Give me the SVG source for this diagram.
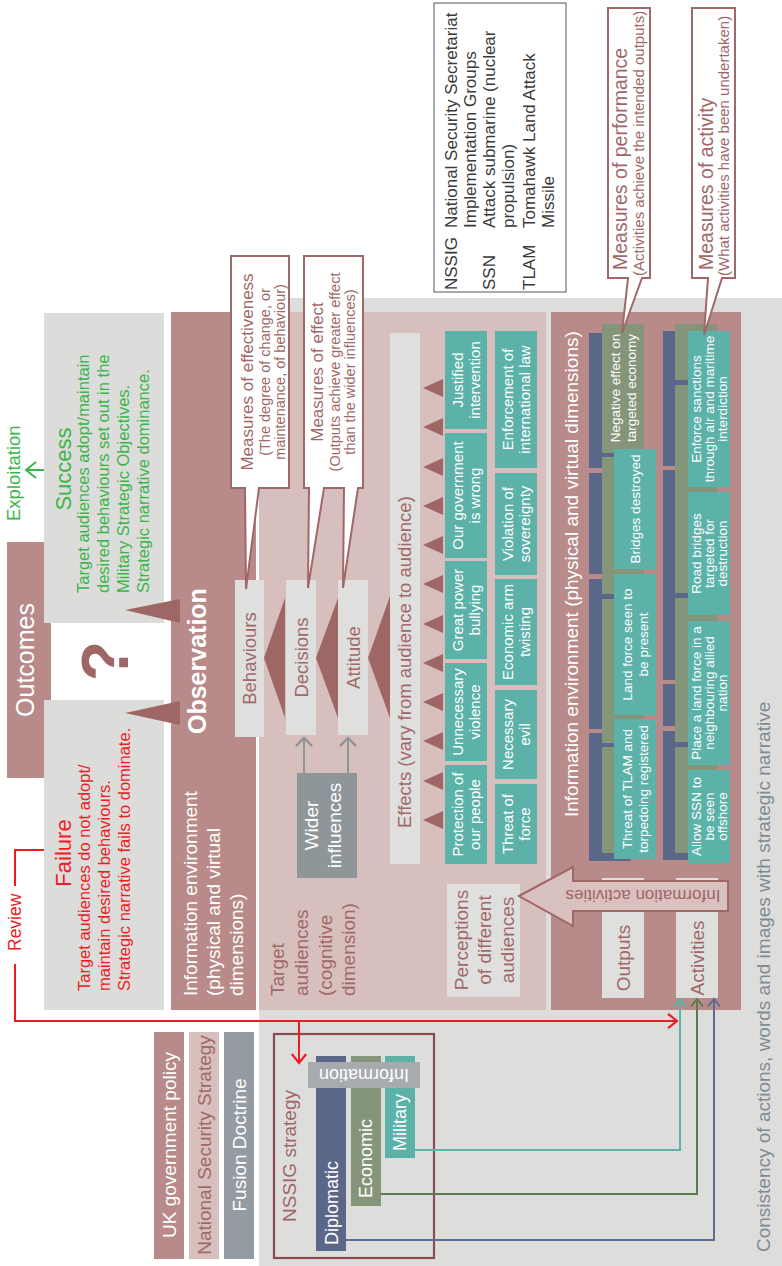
<svg xmlns="http://www.w3.org/2000/svg" width="782" height="1266" viewBox="0 0 782 1266">
<style>
text{font-family:"Liberation Sans",Arial,sans-serif}
.w{fill:#fff}
.m{fill:#a06868}
.tl{fill:#5cb2a9}
.ol{fill:#85957a}
.bl{fill:#5b6789}
.lg{fill:#dfdfdd}
.mv{fill:#b88b8a}
.pk{fill:#d7bfbd}
.dm{fill:#9f6666}
.co{fill:#fff;stroke:#a06868;stroke-width:2}
.ln{fill:none;stroke-width:2}
.c{text-anchor:middle}
</style>
<defs>
<marker id="mr" viewBox="0 0 20 20" refX="15" refY="10" markerWidth="18" markerHeight="18" markerUnits="userSpaceOnUse" orient="auto"><path d="M5,2 L15,10 L5,18" fill="none" stroke="#ed1c24" stroke-width="2.4"/></marker>
<marker id="mt" viewBox="0 0 20 20" refX="15" refY="10" markerWidth="15" markerHeight="15" markerUnits="userSpaceOnUse" orient="auto"><path d="M5,2 L15,10 L5,18" fill="none" stroke="#5eb3ab" stroke-width="2.6"/></marker>
<marker id="mg" viewBox="0 0 20 20" refX="15" refY="10" markerWidth="15" markerHeight="15" markerUnits="userSpaceOnUse" orient="auto"><path d="M5,2 L15,10 L5,18" fill="none" stroke="#5b7b4f" stroke-width="2.6"/></marker>
<marker id="mb" viewBox="0 0 20 20" refX="15" refY="10" markerWidth="15" markerHeight="15" markerUnits="userSpaceOnUse" orient="auto"><path d="M5,2 L15,10 L5,18" fill="none" stroke="#5d6b8f" stroke-width="2.6"/></marker>
<marker id="mq" viewBox="0 0 20 20" refX="15" refY="10" markerWidth="18" markerHeight="18" markerUnits="userSpaceOnUse" orient="auto"><path d="M6,1 L15,10 L6,19" fill="none" stroke="#8e969a" stroke-width="2.6"/></marker>
</defs>

<rect x="259" y="298" width="523" height="968" fill="#dddddb"/>

<g id="legend">
<rect x="434" y="3" width="132" height="289" fill="#fff" stroke="#555" stroke-width="1"/>
<g fill="#3a3a3a" font-size="17">
<text transform="rotate(-90)" x="-290" y="457">NSSIG</text>
<text transform="rotate(-90)" x="-228" y="457">National Security Secretariat</text>
<text transform="rotate(-90)" x="-228" y="476">Implementation Groups</text>
<text transform="rotate(-90)" x="-290" y="495">SSN</text>
<text transform="rotate(-90)" x="-228" y="495">Attack submarine (nuclear</text>
<text transform="rotate(-90)" x="-228" y="514">propulsion)</text>
<text transform="rotate(-90)" x="-290" y="535">TLAM</text>
<text transform="rotate(-90)" x="-228" y="535">Tomahawk Land Attack</text>
<text transform="rotate(-90)" x="-228" y="554">Missile</text>
</g>
</g>

<g id="outcomes">
<rect x="7" y="542" width="44" height="236" class="mv"/>
<text transform="rotate(-90)" x="-660" y="34" class="w c" font-size="25">Outcomes</text>
</g>

<g id="question">
<text transform="rotate(-90)" x="-661" y="128" class="dm c" font-size="66" font-weight="bold">?</text>
</g>

<g id="exploitation" fill="#3ab54a">
<text transform="rotate(-90)" x="-521" y="20" font-size="18.5">Exploitation</text>
<path d="M45,470 H26 M36,462 L26,470 L36,478" fill="none" stroke="#3ab54a" stroke-width="2"/>
</g>

<g id="success">
<rect x="44" y="313" width="120" height="310" fill="#dcdcda"/>
<g fill="#3ab54a">
<text transform="rotate(-90)" x="-469" y="71" class="c" font-size="22">Success</text>
<g font-size="16.5">
<text transform="rotate(-90)" x="-593" y="89">Target audiences adopt/maintain</text>
<text transform="rotate(-90)" x="-593" y="109">desired behaviours set out in the</text>
<text transform="rotate(-90)" x="-593" y="129">Military Strategic Objectives.</text>
<text transform="rotate(-90)" x="-593" y="149">Strategic narrative dominance.</text>
</g>
</g>
</g>

<g id="failure">
<rect x="44" y="700" width="120" height="310" fill="#dcdcda"/>
<g fill="#ed1c24">
<text transform="rotate(-90)" x="-853" y="71" class="c" font-size="22">Failure</text>
<g font-size="16.5">
<text transform="rotate(-90)" x="-991" y="90">Target audiences do not adopt/</text>
<text transform="rotate(-90)" x="-991" y="110">maintain desired behaviours.</text>
<text transform="rotate(-90)" x="-991" y="130">Strategic narrative fails to dominate.</text>
</g>
</g>
</g>

<g id="observation">
<rect x="171" y="312" width="85" height="698" class="mv"/>
<text transform="rotate(-90)" x="-734" y="206" class="w" font-size="25" font-weight="bold">Observation</text>
<g class="w" font-size="19">
<text transform="rotate(-90)" x="-996" y="197">Information environment</text>
<text transform="rotate(-90)" x="-996" y="220">(physical and virtual</text>
<text transform="rotate(-90)" x="-996" y="243">dimensions)</text>
</g>
</g>

<g id="outcome-pointers" class="dm">
<polygon points="125,610 180,599 180,623"/>
<polygon points="125,713 180,701 180,725"/>
</g>

<g id="target-audiences">
<rect x="259" y="312" width="287" height="698" class="pk"/>
<g class="m" font-size="19">
<text transform="rotate(-90)" x="-996" y="284">Target</text>
<text transform="rotate(-90)" x="-996" y="308">audiences</text>
<text transform="rotate(-90)" x="-996" y="332">(cognitive</text>
<text transform="rotate(-90)" x="-996" y="355">dimension)</text>
</g>
</g>

<g id="info-physical">
<rect x="551" y="312" width="190" height="698" class="mv"/>
<text transform="rotate(-90)" x="-817" y="578" class="w" font-size="19">Information environment (physical and virtual dimensions)</text>
</g>

<g id="stage-pointers" class="dm">
<polygon points="264,658 285,598 285,718"/>
<polygon points="316,658 338,598 338,718"/>
<polygon points="368,658 390,596 390,718"/>
</g>

<g id="behaviours">
<rect x="235" y="580" width="29" height="157" class="lg"/>
<text transform="rotate(-90)" x="-658.5" y="256" class="m c" font-size="18.5">Behaviours</text>
</g>
<g id="decisions">
<rect x="286" y="580" width="30" height="155" class="lg"/>
<text transform="rotate(-90)" x="-657.5" y="307.5" class="m c" font-size="18.5">Decisions</text>
</g>
<g id="attitude">
<rect x="338" y="580" width="30" height="155" class="lg"/>
<text transform="rotate(-90)" x="-657.5" y="359.5" class="m c" font-size="18.5">Attitude</text>
</g>

<g id="wider-influences">
<rect x="297" y="773" width="60" height="105" fill="#8e969a"/>
<text transform="rotate(-90)" x="-825.5" y="318" class="w c" font-size="19">Wider</text>
<text transform="rotate(-90)" x="-825.5" y="341" class="w c" font-size="19">influences</text>
</g>

<g id="effects">
<rect x="390" y="333" width="30" height="531" class="lg"/>
<text transform="rotate(-90)" x="-828" y="411" class="m" font-size="18.5">Effects (vary from audience to audience)</text>
</g>

<g id="effect-pointers" class="dm">
<polygon points="423,388 443,379 443,397"/>
<polygon points="423,427 443,418 443,436"/>
<polygon points="423,467 443,458 443,476"/>
<polygon points="423,506 443,497 443,515"/>
<polygon points="423,545 443,536 443,554"/>
<polygon points="423,584 443,575 443,593"/>
<polygon points="423,624 443,615 443,633"/>
<polygon points="423,663 443,654 443,672"/>
<polygon points="423,702 443,693 443,711"/>
<polygon points="423,741 443,732 443,750"/>
<polygon points="423,781 443,772 443,790"/>
<polygon points="423,820 443,811 443,829"/>
</g>

<g id="effect-justified"><rect x="445" y="331" width="42" height="98" class="tl"/>
<text transform="rotate(-90)" class="w c" font-size="15"><tspan x="-380" y="463">Justified</tspan><tspan x="-380" y="480">intervention</tspan></text></g>
<g id="effect-government"><rect x="445" y="433" width="42" height="125" class="tl"/>
<text transform="rotate(-90)" class="w c" font-size="15"><tspan x="-495.5" y="463">Our government</tspan><tspan x="-495.5" y="480">is wrong</tspan></text></g>
<g id="effect-bullying"><rect x="445" y="561" width="42" height="98" class="tl"/>
<text transform="rotate(-90)" class="w c" font-size="15"><tspan x="-610" y="463">Great power</tspan><tspan x="-610" y="480">bullying</tspan></text></g>
<g id="effect-violence"><rect x="445" y="663" width="42" height="98" class="tl"/>
<text transform="rotate(-90)" class="w c" font-size="15"><tspan x="-712" y="463">Unnecessary</tspan><tspan x="-712" y="480">violence</tspan></text></g>
<g id="effect-protection"><rect x="445" y="765" width="42" height="99" class="tl"/>
<text transform="rotate(-90)" class="w c" font-size="15"><tspan x="-814.5" y="463">Protection of</tspan><tspan x="-814.5" y="480">our people</tspan></text></g>

<g id="effect-enforcement"><rect x="495" y="331" width="42" height="137" class="tl"/>
<text transform="rotate(-90)" class="w c" font-size="15"><tspan x="-399.5" y="513">Enforcement of</tspan><tspan x="-399.5" y="530">international law</tspan></text></g>
<g id="effect-sovereignty"><rect x="495" y="473" width="42" height="102" class="tl"/>
<text transform="rotate(-90)" class="w c" font-size="15"><tspan x="-524" y="513">Violation of</tspan><tspan x="-524" y="530">sovereignty</tspan></text></g>
<g id="effect-twisting"><rect x="495" y="579" width="42" height="106" class="tl"/>
<text transform="rotate(-90)" class="w c" font-size="15"><tspan x="-632" y="513">Economic arm</tspan><tspan x="-632" y="530">twisting</tspan></text></g>
<g id="effect-evil"><rect x="495" y="690" width="42" height="89" class="tl"/>
<text transform="rotate(-90)" class="w c" font-size="15"><tspan x="-734.5" y="513">Necessary</tspan><tspan x="-734.5" y="530">evil</tspan></text></g>
<g id="effect-force"><rect x="495" y="784" width="42" height="80" class="tl"/>
<text transform="rotate(-90)" class="w c" font-size="15"><tspan x="-824" y="513">Threat of</tspan><tspan x="-824" y="530">force</tspan></text></g>

<g id="perceptions">
<rect x="447" y="884" width="73" height="113" class="lg"/>
<text transform="rotate(-90)" class="m c" font-size="19"><tspan x="-940" y="468">Perceptions</tspan><tspan x="-940" y="491">of different</tspan><tspan x="-940" y="514">audiences</tspan></text>
</g>

<g id="outputs-column">
<rect x="589" y="333" width="42" height="135" class="bl"/>
<rect x="589" y="473" width="42" height="101" class="bl"/>
<rect x="589" y="579" width="42" height="150" class="bl"/>
<rect x="589" y="733" width="42" height="128" class="bl"/>
<rect x="602" y="457" width="42" height="137" class="ol"/>
<rect x="602" y="599" width="42" height="144" class="ol"/>
<rect x="602" y="747" width="42" height="106" class="ol"/>
<g id="output-economy"><rect x="602" y="324" width="42" height="129" class="ol"/>
<text transform="rotate(-90)" class="w c" font-size="13.5"><tspan x="-388" y="619.5">Negative effect on</tspan><tspan x="-388" y="636">targeted economy</tspan></text></g>
<g id="output-bridges"><rect x="614" y="449" width="42" height="120" class="tl"/>
<text transform="rotate(-90)" x="-509" y="640" class="w c" font-size="13.5">Bridges destroyed</text></g>
<g id="output-landforce"><rect x="614" y="574" width="42" height="141" class="tl"/>
<text transform="rotate(-90)" class="w c" font-size="13.5"><tspan x="-644.5" y="631.5">Land force seen to</tspan><tspan x="-644.5" y="648">be present</tspan></text></g>
<g id="output-tlam"><rect x="614" y="719" width="42" height="140" class="tl"/>
<text transform="rotate(-90)" class="w c" font-size="13.5"><tspan x="-789" y="631.5">Threat of TLAM and</tspan><tspan x="-789" y="648">torpedoing registered</tspan></text></g>
</g>

<g id="activities-column">
<rect x="663" y="331" width="42" height="135" class="bl"/>
<rect x="663" y="470" width="42" height="210" class="bl"/>
<rect x="663" y="684" width="42" height="42" class="bl"/>
<rect x="663" y="731" width="42" height="129" class="bl"/>
<rect x="675" y="324" width="42" height="56" class="ol"/>
<rect x="675" y="385" width="42" height="208" class="ol"/>
<rect x="675" y="598" width="42" height="144" class="ol"/>
<rect x="675" y="747" width="42" height="106" class="ol"/>
<g id="activity-sanctions"><rect x="688" y="331" width="42" height="156" class="tl"/>
<text transform="rotate(-90)" class="w c" font-size="13.5"><tspan x="-409" y="700.7">Enforce sanctions</tspan><tspan x="-409" y="713.7">through air and maritime</tspan><tspan x="-409" y="726.7">interdiction</tspan></text></g>
<g id="activity-roadbridges"><rect x="688" y="492" width="42" height="123" class="tl"/>
<text transform="rotate(-90)" class="w c" font-size="13.5"><tspan x="-553.5" y="700.7">Road bridges</tspan><tspan x="-553.5" y="713.7">targeted for</tspan><tspan x="-553.5" y="726.7">destruction</tspan></text></g>
<g id="activity-landforce"><rect x="688" y="621" width="42" height="144" class="tl"/>
<text transform="rotate(-90)" class="w c" font-size="13.5"><tspan x="-693" y="700.7">Place a land force in a</tspan><tspan x="-693" y="713.7">neighbouring allied</tspan><tspan x="-693" y="726.7">nation</tspan></text></g>
<g id="activity-ssn"><rect x="688" y="770" width="42" height="93" class="tl"/>
<text transform="rotate(-90)" class="w c" font-size="13.5"><tspan x="-816.5" y="700.7">Allow SSN to</tspan><tspan x="-816.5" y="713.7">be seen</tspan><tspan x="-816.5" y="726.7">offshore</tspan></text></g>
</g>

<g id="outputs-label">
<rect x="602" y="878" width="42" height="120" class="lg"/>
<text transform="rotate(-90)" x="-958" y="629.5" class="m c" font-size="19">Outputs</text>
</g>
<g id="activities-label">
<rect x="676" y="878" width="42" height="120" class="lg"/>
<text transform="rotate(-90)" x="-958" y="703.5" class="m c" font-size="19">Activities</text>
</g>

<g id="information-activities">
<polygon points="519,896 573,867 573,881 728,881 728,911 573,911 573,926" fill="#d9c1bf" stroke="#a06868" stroke-width="2"/>
<text transform="translate(643,896) rotate(180)" x="0" y="6" class="dm c" font-size="17">Information activities</text>
</g>

<g id="policy">
<rect x="154" y="1032" width="30" height="227" class="mv"/>
<text transform="rotate(-90)" x="-1145" y="175.5" class="w c" font-size="19">UK government policy</text>
</g>
<g id="nss">
<rect x="189" y="1032" width="30" height="227" class="pk"/>
<text transform="rotate(-90)" x="-1145" y="210.5" class="m c" font-size="19">National Security Strategy</text>
</g>
<g id="fusion">
<rect x="224" y="1032" width="30" height="227" fill="#939ca3"/>
<text transform="rotate(-90)" x="-1145" y="245.5" class="w c" font-size="19">Fusion Doctrine</text>
</g>

<g id="nssig-strategy">
<rect x="274" y="1034" width="160" height="224" fill="none" stroke="#8b4b55" stroke-width="2.2"/>
<text transform="rotate(-90)" x="-1222" y="296" class="dm" font-size="19">NSSIG strategy</text>
<rect x="316" y="1056" width="30" height="195" class="bl"/>
<text transform="rotate(-90)" x="-1245" y="338" class="w" font-size="18">Diplomatic</text>
<rect x="351" y="1056" width="30" height="150" class="ol"/>
<text transform="rotate(-90)" x="-1198" y="372" class="w" font-size="18">Economic</text>
<rect x="385" y="1056" width="30" height="102" class="tl"/>
<text transform="rotate(-90)" x="-1151" y="406" class="w" font-size="18">Military</text>
<rect x="308" y="1062" width="112" height="26" fill="#a7abae"/>
<text transform="translate(364,1075) rotate(180)" x="0" y="6.5" class="w c" font-size="18">Information</text>
</g>

<g id="callout-effectiveness">
<path d="M231,256 H289 V488 H259 L246,589 L245,488 H231 Z" class="co"/>
<text transform="rotate(-90)" x="-372" y="253" class="m c" font-size="17">Measures of effectiveness</text>
<text transform="rotate(-90)" class="m c" font-size="14.5"><tspan x="-372" y="270">(The degree of change, or</tspan><tspan x="-372" y="285">maintenance, of behaviour)</tspan></text>
</g>
<g id="callout-effect">
<path d="M304,256 H363 V488 H358 L343,588 L344,488 H324 L308,588 L309,488 H304 Z" class="co"/>
<text transform="rotate(-90)" x="-372" y="323" class="m c" font-size="17">Measures of effect</text>
<text transform="rotate(-90)" class="m c" font-size="14.5"><tspan x="-372" y="340">(Outputs achieve greater effect</tspan><tspan x="-372" y="355">than the wider influences)</tspan></text>
</g>
<g id="callout-performance">
<path d="M608,8 H650 V278 H642 L622,333 L628,278 H608 Z" class="co"/>
<text transform="rotate(-90)" x="-270" y="627" class="m" font-size="19.5">Measures of performance</text>
<text transform="rotate(-90)" x="-276" y="644" class="m" font-size="15">(Activities achieve the intended outputs)</text>
</g>
<g id="callout-activity">
<path d="M692,8 H735 V278 H722 L704,335 L708,278 H692 Z" class="co"/>
<text transform="rotate(-90)" x="-270" y="713" class="m" font-size="19.5">Measures of activity</text>
<text transform="rotate(-90)" x="-276" y="729" class="m" font-size="15">(What activities have been undertaken)</text>
</g>

<g id="review-label">
<text transform="rotate(-90)" x="-951" y="21" fill="#ed1c24" font-size="17.5">Review</text>
</g>

<g id="footer">
<text transform="rotate(-90)" x="-1252" y="770" fill="#7d8b94" font-size="19">Consistency of actions, words and images with strategic narrative</text>
</g>

<g id="connectors">
<path d="M44,850 H15 V886" class="ln" stroke="#ed1c24"/>
<path d="M15,964 V1021 H677" class="ln" stroke="#ed1c24" marker-end="url(#mr)"/>
<path d="M299,1021 V1063" class="ln" stroke="#ed1c24" marker-end="url(#mr)"/>
<path d="M415,1150 H680 V999" class="ln" stroke="#5eb3ab" marker-end="url(#mt)"/>
<path d="M381,1194 H697 V999" class="ln" stroke="#5b7b4f" marker-end="url(#mg)"/>
<path d="M346,1240 H714 V999" class="ln" stroke="#5d6b8f" marker-end="url(#mb)"/>
<path d="M304,773 V738" class="ln" stroke="#8e969a" stroke-width="2.5" marker-end="url(#mq)"/>
<path d="M348,773 V738" class="ln" stroke="#8e969a" stroke-width="2.5" marker-end="url(#mq)"/>
</g>
</svg>
